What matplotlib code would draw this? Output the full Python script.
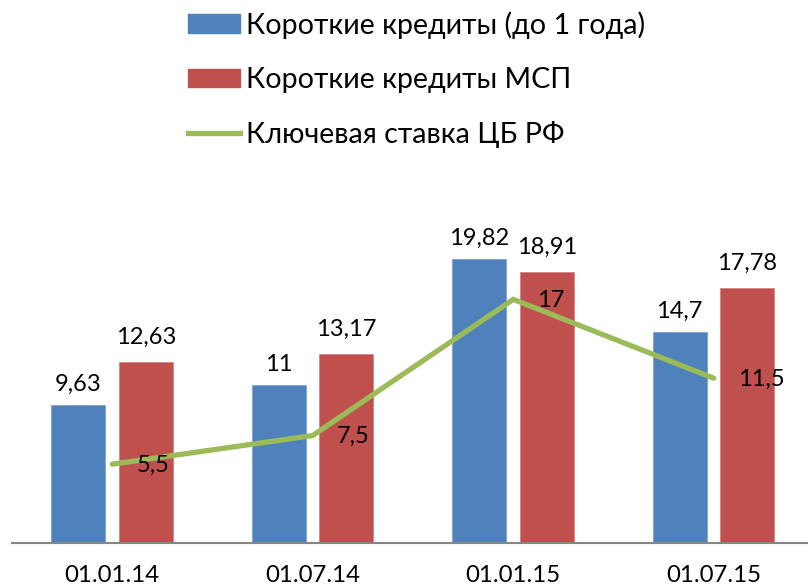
import numpy as np
import matplotlib.pyplot as plt
from matplotlib.patches import Patch
from matplotlib.lines import Line2D

plt.rcParams['font.family'] = ['Lato', 'DejaVu Sans']

dates = ['01.01.14', '01.07.14', '01.01.15', '01.07.15']
short_loans = [9.63, 11, 19.82, 14.7]
short_loans_sme = [12.63, 13.17, 18.91, 17.78]
key_rate = [5.5, 7.5, 17, 11.5]

labels_short = ['9,63', '11', '19,82', '14,7']
labels_sme = ['12,63', '13,17', '18,91', '17,78']
labels_rate = ['5,5', '7,5', '17', '11,5']

blue = '#4F81BD'
red = '#C0504D'
green = '#9BBB59'

W, H = 808, 586
fig = plt.figure(figsize=(W / 100, H / 100), dpi=100)
# axes in pixel coords: left 12, baseline at y=543, right edge 808
ymax = 25
px_per_unit = 14.33
ax_h = ymax * px_per_unit
ax = fig.add_axes([12 / W, (H - 543) / H, (808 - 12) / W, ax_h / H])

x = np.arange(len(dates))
bw = 0.27
ax.bar(x - 0.17, short_loans, bw, color=blue, edgecolor='#7FA3D0', linewidth=0.6)
ax.bar(x + 0.167, short_loans_sme, bw, color=red, edgecolor='#D48482', linewidth=0.6)
ax.plot(x, key_rate, color=green, lw=3.8, solid_capstyle='round', solid_joinstyle='miter')

for xi, v, s in zip(x, short_loans, labels_short):
    ax.annotate(s, (xi - 0.17, v), xytext=(0, 21), textcoords='offset pixels',
                ha='center', va='center', fontsize=17)
for xi, v, s in zip(x, short_loans_sme, labels_sme):
    ax.annotate(s, (xi + 0.167, v), xytext=(0, 25), textcoords='offset pixels',
                ha='center', va='center', fontsize=17)
for xi, v, s in zip(x, key_rate, labels_rate):
    ax.annotate(s, (xi, v), xytext=(24, -1), textcoords='offset pixels',
                ha='left', va='center', fontsize=17)

ax.set_xlim(-0.5, 3.47)
ax.set_ylim(0, ymax)
ax.set_xticks(x)
ax.set_xticklabels(dates, fontsize=17.3)
ax.tick_params(axis='x', length=0, pad=16)
ax.set_yticks([])
for side in ['top', 'right', 'left']:
    ax.spines[side].set_visible(False)
ax.spines['bottom'].set_color('#868686')
ax.spines['bottom'].set_linewidth(1.5)

handles = [Patch(color=blue), Patch(color=red), Line2D([], [], color=green, lw=3.8)]
names = ['Короткие кредиты (до 1 года)', 'Короткие кредиты МСП', 'Ключевая ставка ЦБ РФ']
fig.legend(handles, names, loc='upper left', bbox_to_anchor=(174 / W, 1 + 3 / H),
           frameon=False, fontsize=20.6, handlelength=1.82, handleheight=0.63,
           handletextpad=0.2, labelspacing=0.98, borderpad=0)

fig.savefig('out.png', dpi=100)
